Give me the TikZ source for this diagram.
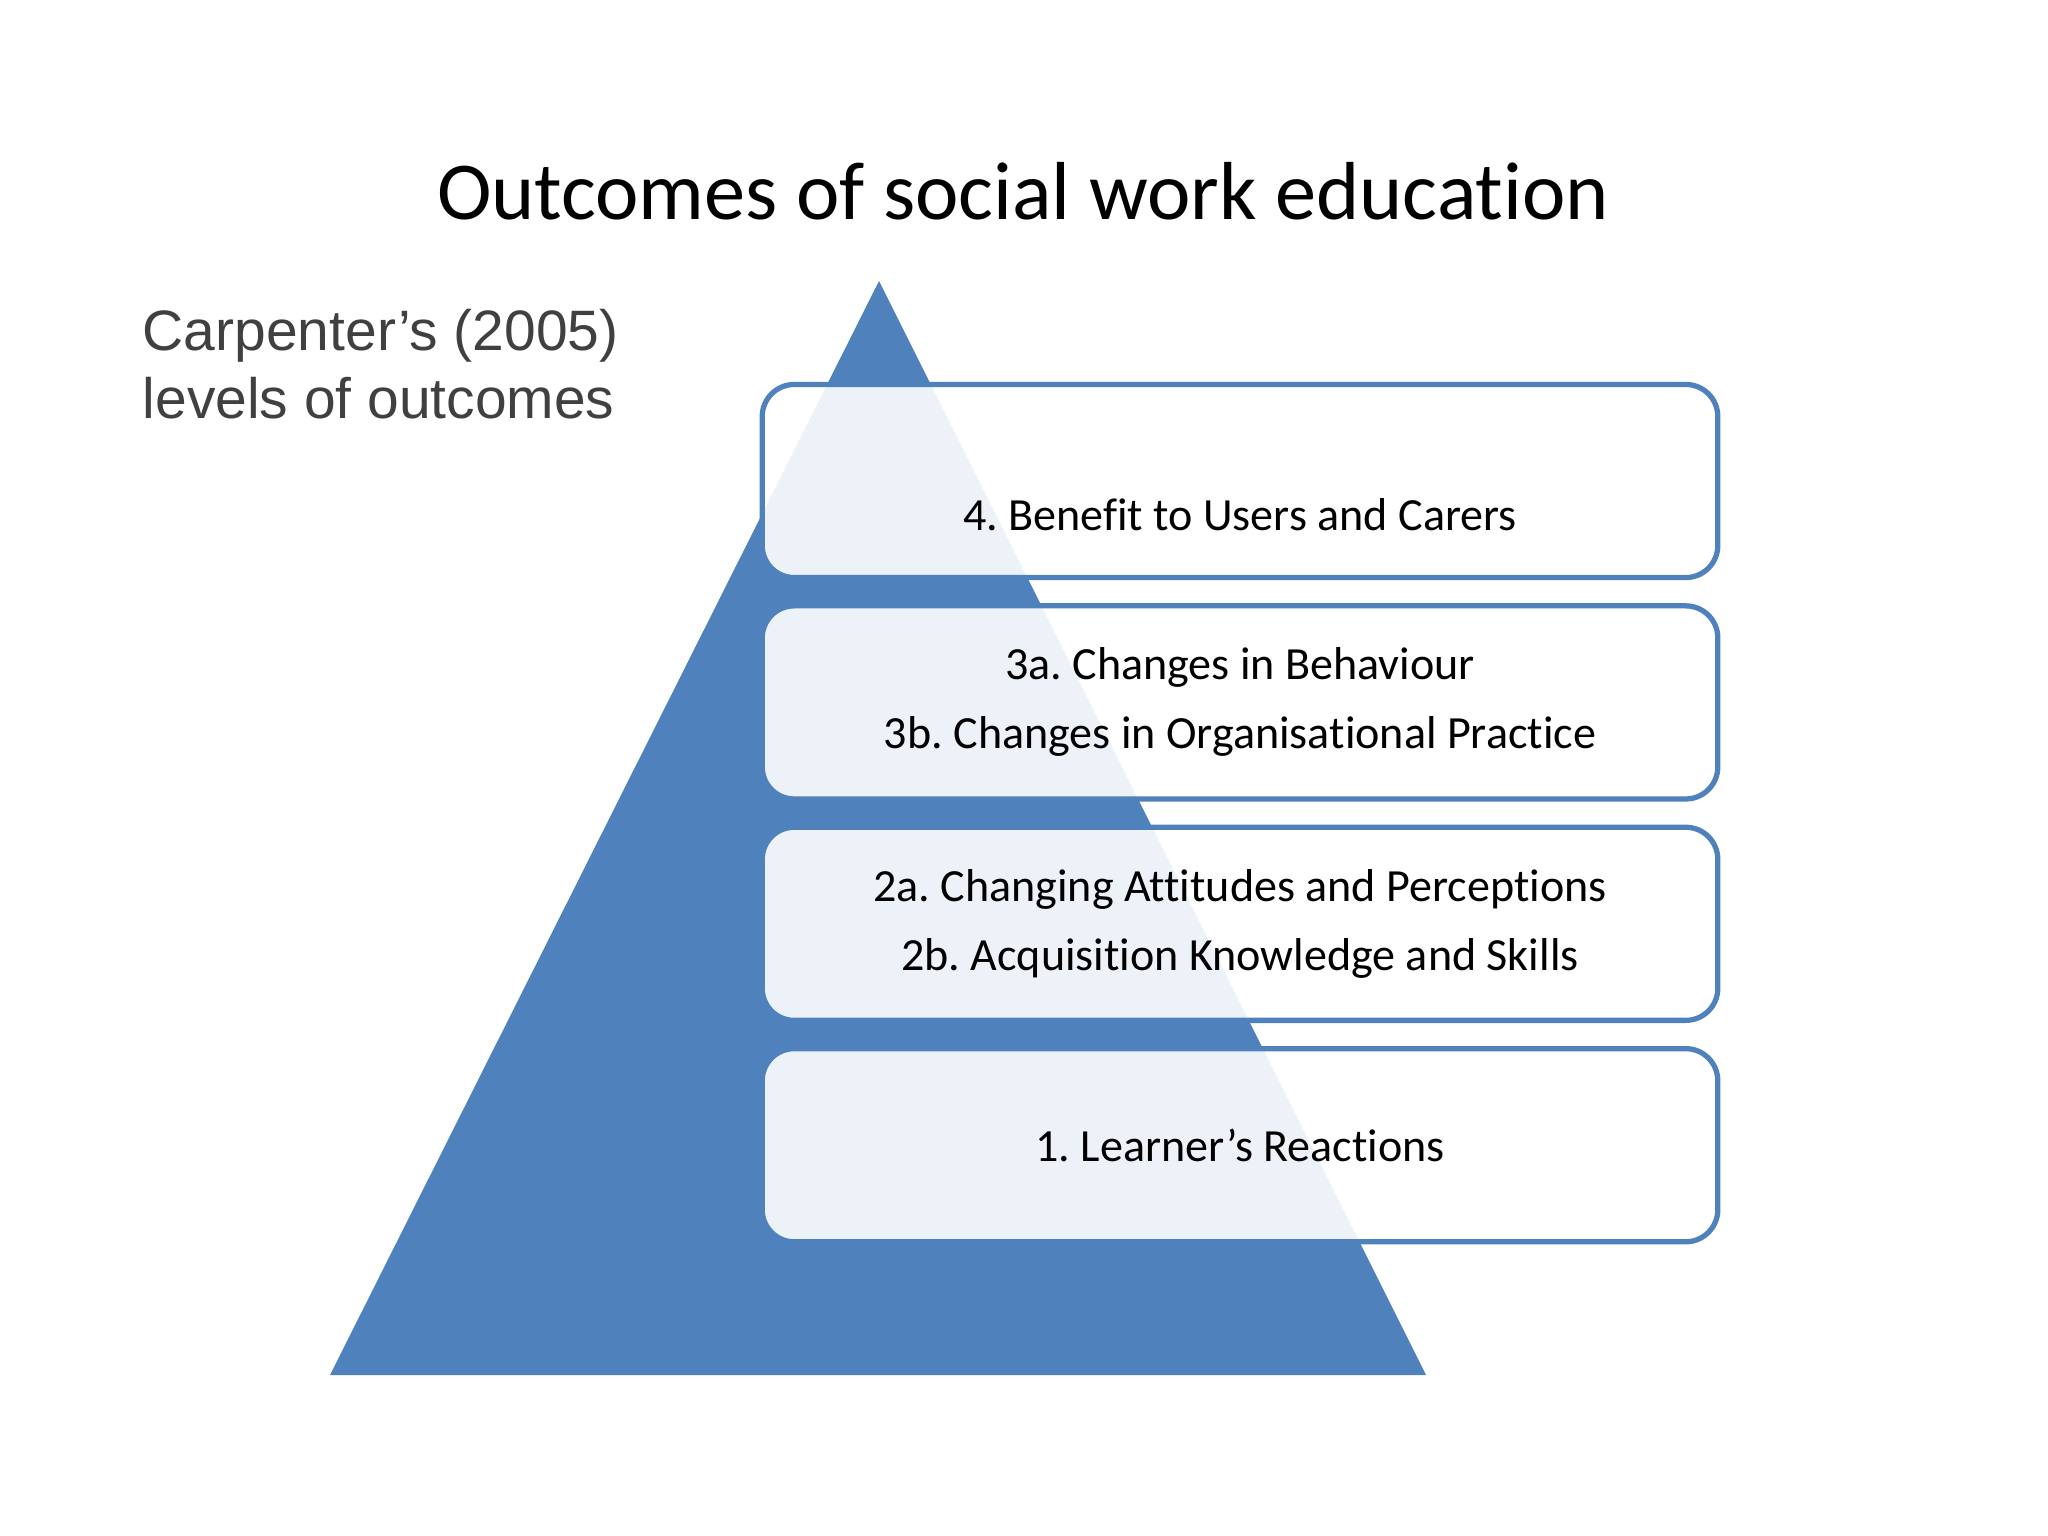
\documentclass[tikz,border=0pt]{standalone}
\usepackage{fontspec}
\setmainfont{Carlito}[Ligatures=NoCommon]
\newfontfamily\arialfont{Liberation Sans}
\usetikzlibrary{positioning}
\definecolor{pyrblue}{HTML}{4F81BD}
\definecolor{subgray}{HTML}{404040}
\frenchspacing

\begin{document}
\begin{tikzpicture}[x=0.01cm, y=-0.01cm,
    level/.style={draw=pyrblue, line width=1.5pt, rounded corners=0.32cm,
      fill=white, fill opacity=0.9, text opacity=1, inner sep=0pt,
      minimum width=9.55cm, minimum height=1.93cm, align=center,
      font=\fontsize{13.1}{19.6}\selectfont},
    node distance=0.23cm]
  \useasboundingbox (0,0) rectangle (2048,1536);
  % pyramid behind the boxes
  \fill[pyrblue] (879,281) -- (1426,1375) -- (330,1375) -- cycle;
  % title and side text
  \node[font=\fontsize{23.4}{28}\selectfont, anchor=base] (title) at (1023,219)
    {Outcomes of social work education};
  \node[font=\arialfont\fontsize{16.2}{19.3}\selectfont, text=subgray,
    align=left, anchor=north west, inner sep=0pt] (carpenter) at (142,309)
    {Carpenter’s (2005)\\levels of outcomes};
  % levels, top to bottom
  \node[level] (lvl4) at (1240,481) {\vphantom{3a}\\4. Benefit to Users and Carers};
  \node[level, below=of lvl4] (lvl3)
    {3a. Changes in Behaviour\\3b. Changes in Organisational Practice};
  \node[level, below=of lvl3] (lvl2)
    {2a. Changing Attitudes and Perceptions\\2b. Acquisition Knowledge and Skills};
  \node[level, below=of lvl2] (lvl1) {1. Learner’s Reactions};
\end{tikzpicture}
\end{document}
